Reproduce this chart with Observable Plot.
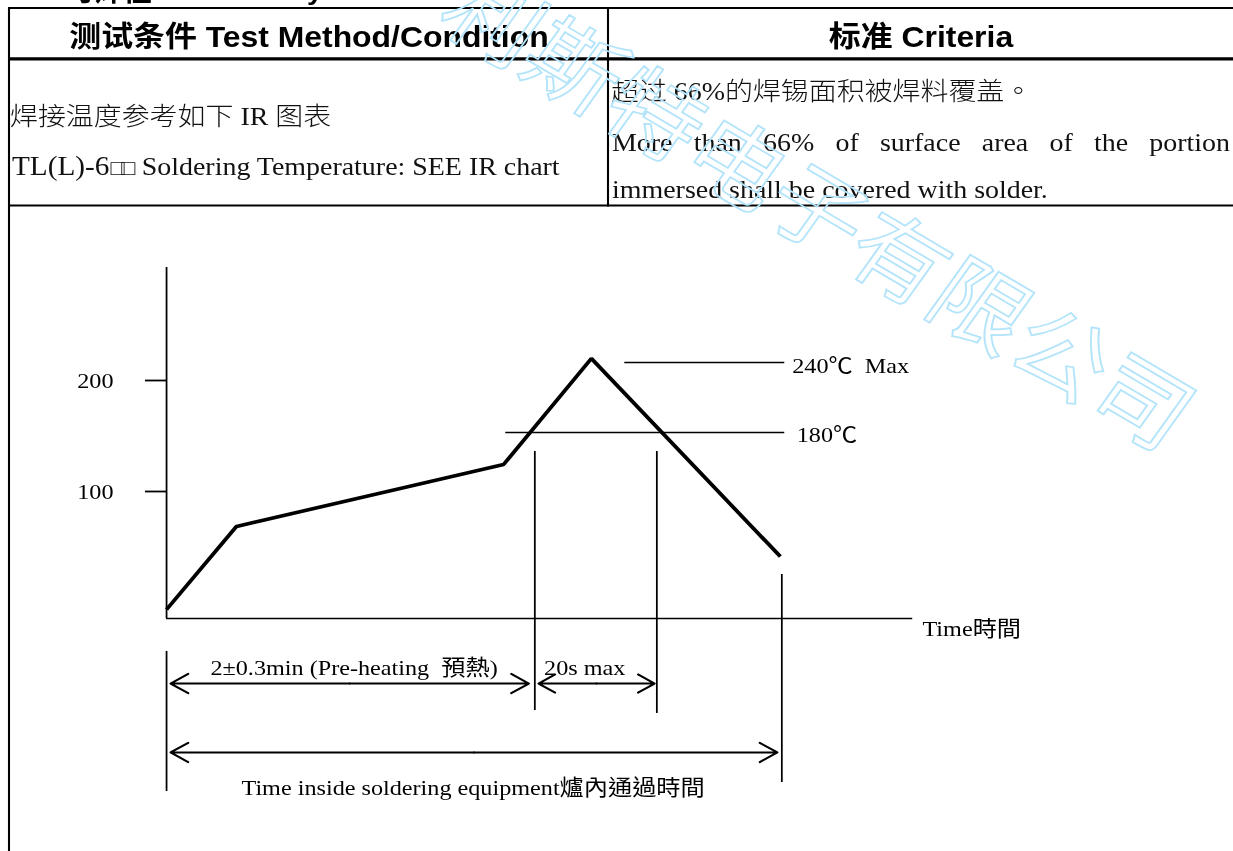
<!DOCTYPE html>
<html>
<head>
<meta charset="utf-8">
<script src="https://cdn.jsdelivr.net/npm/d3@7"></script>
<script src="https://cdn.jsdelivr.net/npm/@observablehq/plot@0.6"></script>
<style>
  html, body { margin: 0; padding: 0; background: #fff; overflow: hidden; }
  #page { position: relative; transform-origin: 0 0; }
  #page svg { position: absolute; left: 0; top: 0; overflow: visible; }
  #page text { white-space: pre; }
</style>
</head>
<body>
<div id="page"></div>
<script>
// ---------------- data ----------------
// reflow profile: time (arbitrary units along the time axis) and temperature on the drawn scale
const profileTime = [0, 9.4, 45.3, 57.1, 82.5];
const profileTemp = [-6.3, 68.5, 124.3, 219.8, 41.4];

const yTicks = [100, 200];
const axisTempMin = -14.4, axisTempMax = 301.8;
const axisTimeEnd = 100.3;
const timeAxisLabel = "Time時間";
const timeAxisLabelAt = [101.6, -23.4];

// temperature limit lines
const limitLabels = ["240℃\u00a0\u00a0Max", "180℃"];
const limitTemp = [216.2, 153.2];
const limitFrom = [61.6, 45.6];
const limitTo = [83.1, 83.1];
const limitLabelTime = [84.1, 84.7];
const limitLabelTemp = [213.5, 150.5];

// vertical time markers
const markerTime = [49.5, 65.9, 82.7, 0];
const markerTop = [136, 136, 25.2, -44.1];
const markerBottom = [-97.3, -100, -162.2, -170.3];

// time spans (double arrows)
const spanLabels = ["2±0.3min (Pre-heating\u00a0\u00a0預熱)", "20s max", "Time inside soldering equipment爐內通過時間"];
const spanFrom = [0.54, 50, 0.54];
const spanTo = [48.7, 65.6, 82.1];
const spanTemp = [-73, -73, -135.1];
const spanLabelTime = [25.2, 56.2, 41.2];
const spanLabelTemp = [-58.6, -58.6, -166.7];

// table texts
const headerLeft = "测试条件 Test Method/Condition";
const headerRight = "标准 Criteria";
const condLine1 = "焊接温度参考如下 IR 图表";
const condLine2 = ["TL(L)-6", "□□", "Soldering Temperature: SEE IR chart"];
const critLine1 = ["超过 66%的焊锡面积被焊料覆盖", "。"];
const critLine2 = "More than 66% of surface area of the portion";
const critLine3 = "immersed shall be covered with solder.";
const watermarkChars = ["利", "斯", "特", "电", "子", "有", "限", "公", "司"];

// ---------------- layout ----------------
const SX = 1.1;              // the scanned page is stretched horizontally
const W = 1233 / SX, H = 851;
const px = v => v / SX;      // reference x pixel -> unstretched x
const page = document.getElementById("page");
page.style.width = W + "px";
page.style.height = H + "px";
page.style.transform = `scaleX(${SX})`;

const serif = "'Liberation Serif', 'Times New Roman', 'Noto Sans CJK TC', serif";
const serifSC = "'Liberation Serif', 'Times New Roman', 'Noto Sans CJK SC', serif";
const sansBold = "'Liberation Sans', Arial, 'Noto Sans CJK SC', sans-serif";

const profile = profileTime.map((t, i) => ({t, temp: profileTemp[i]}));
const limits = limitLabels.map((label, i) => ({label, temp: limitTemp[i], a: limitFrom[i], b: limitTo[i], lt: limitLabelTime[i], ly: limitLabelTemp[i]}));
const markers = markerTime.map((t, i) => ({t, top: markerTop[i], bottom: markerBottom[i]}));
const spans = spanLabels.map((label, i) => ({label, a: spanFrom[i], b: spanTo[i], m: (spanFrom[i] + spanTo[i]) / 2, temp: spanTemp[i], lt: spanLabelTime[i], ly: spanLabelTemp[i]}));

const chart = Plot.plot({
  width: W,
  height: H,
  marginLeft: px(166),
  marginRight: px(1233 - 910),
  marginTop: 267,
  marginBottom: H - 618,
  x: {domain: [0, 100], axis: null},
  y: {domain: [axisTempMin, axisTempMax]},
  style: {fontFamily: serif, fontSize: "22px", color: "black", background: "transparent", overflow: "visible"},
  marks: [
    Plot.ruleX([0], {y1: axisTempMin, y2: axisTempMax, stroke: "black", strokeWidth: 1.6}),
    Plot.ruleY([axisTempMin], {x1: 0, x2: axisTimeEnd, stroke: "black", strokeWidth: 1.6}),
    Plot.axisY({ticks: yTicks, tickSize: px(21), tickPadding: px(32), tickFormat: d => String(d), stroke: "black", strokeWidth: 1.8, fill: "black", fontSize: 22, fontFamily: serif, label: null}),
    Plot.ruleY(limits, {y: "temp", x1: "a", x2: "b", stroke: "black", strokeWidth: 1.6}),
    Plot.ruleX(markers, {x: "t", y1: "top", y2: "bottom", stroke: "black", strokeWidth: 1.6}),
    Plot.line(profile, {x: "t", y: "temp", stroke: "black", strokeWidth: 3.6, strokeLinejoin: "miter", strokeLinecap: "butt"}),
    Plot.arrow(spans, {x1: "m", x2: "a", y1: "temp", y2: "temp", stroke: "black", strokeWidth: 2, headAngle: 62, headLength: 14}),
    Plot.arrow(spans, {x1: "m", x2: "b", y1: "temp", y2: "temp", stroke: "black", strokeWidth: 2, headAngle: 62, headLength: 14}),
    Plot.text(limits, {x: "lt", y: "ly", text: "label", textAnchor: "start", fill: "black", fontSize: 22, fontFamily: serif}),
    Plot.text(spans, {x: "lt", y: "ly", text: "label", textAnchor: "middle", fill: "black", fontSize: 22, fontFamily: serif}),
    Plot.text([timeAxisLabel], {x: timeAxisLabelAt[0], y: timeAxisLabelAt[1], text: d => d, textAnchor: "start", fill: "black", fontSize: 22, fontFamily: serif})
  ]
});
page.appendChild(chart);

// ---------------- table overlay ----------------
const doc = d3.select(page).append("svg").attr("width", W).attr("height", H);

const line = (x1, y1, x2, y2, w) => doc.append("line")
  .attr("x1", x1).attr("y1", y1).attr("x2", x2).attr("y2", y2)
  .attr("stroke", "black").attr("stroke-width", w);

line(px(8), 8, W + 5, 8, 2);           // top border
line(px(8), 58.8, W + 5, 58.8, 3.2);   // header bottom
line(px(8), 205.5, W + 5, 205.5, 2);   // row bottom
line(px(9), 7, px(9), H, 1.9);         // left border
line(px(608), 7, px(608), 206.5, 1.9); // column divider

// cut-off title at the very top of the page
doc.append("text").attr("x", px(66)).attr("y", 1).attr("font-family", sansBold).attr("font-weight", "bold").attr("font-size", 26).text("可焊性");
doc.append("text").attr("x", px(323)).attr("y", 0).attr("text-anchor", "end").attr("font-family", sansBold).attr("font-weight", "bold").attr("font-size", 26).text("Solderability");

doc.append("text").attr("x", px(309)).attr("y", 47).attr("text-anchor", "middle")
  .attr("font-family", sansBold).attr("font-weight", "bold").attr("font-size", 29).text(headerLeft);
doc.append("text").attr("x", px(921)).attr("y", 47).attr("text-anchor", "middle")
  .attr("font-family", sansBold).attr("font-weight", "bold").attr("font-size", 29).text(headerRight);

const FS = 25.4;
const rowText = (x, y) => doc.append("text").attr("x", x).attr("y", y)
  .attr("font-family", serifSC).attr("font-weight", 300).attr("font-size", FS).attr("fill", "#111");

rowText(px(10), 125).text(condLine1);
const tl = rowText(px(12), 175);
tl.append("tspan").attr("font-size", 26.6).text(condLine2[0]);
tl.append("tspan").attr("font-family", "'DejaVu Sans'").attr("font-size", 21).attr("letter-spacing", -3).attr("dx", 1).text(condLine2[1]);
tl.append("tspan").attr("dx", 9).text(condLine2[2]);

const c1 = rowText(px(611), 100);
c1.append("tspan").text(critLine1[0]);
c1.append("tspan").attr("font-family", "'Noto Sans CJK TC'").text(critLine1[1]);
rowText(px(612), 198).text(critLine3);

// justified line
(function justify(str, x0, x1, y) {
  const words = str.split(" ");
  const nodes = words.map(w => rowText(0, y).text(w));
  const widths = nodes.map(n => n.node().getComputedTextLength());
  const gap = (x1 - x0 - d3.sum(widths)) / (words.length - 1);
  let x = x0;
  nodes.forEach((n, i) => { n.attr("x", x); x += widths[i] + gap; });
})(critLine2, px(612), px(1230), 151);

// ---------------- watermark ----------------
const wm = doc.append("g").attr("pointer-events", "none");
const wmStart = [px(497), 14];
const wmStep = [px(81.2), 47.9];
const wmAngle = Math.atan2(wmStep[1], wmStep[0]) * 180 / Math.PI;
watermarkChars.forEach((c, i) => {
  const cx = wmStart[0] + i * wmStep[0];
  const cy = wmStart[1] + i * wmStep[1];
  wm.append("text")
    .attr("transform", `translate(${cx},${cy}) rotate(${wmAngle})`)
    .attr("text-anchor", "middle")
    .attr("dominant-baseline", "central")
    .attr("font-family", "'Noto Sans CJK SC', sans-serif")
    .attr("font-size", 88)
    .attr("fill", "none")
    .attr("stroke", "#b3e4fa")
    .attr("stroke-width", 1.7)
    .text(c);
});
</script>
</body>
</html>
